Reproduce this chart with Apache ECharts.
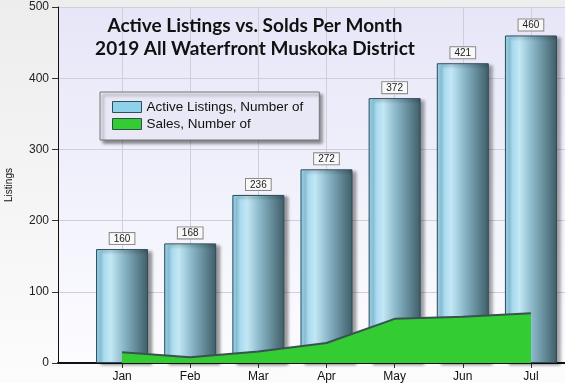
<!DOCTYPE html>
<html><head><meta charset="utf-8">
<script src="https://cdn.jsdelivr.net/npm/echarts@6/dist/echarts.min.js"></script>
<style>html,body{margin:0;padding:0;background:#fff}#c{width:565px;height:383px}</style>
</head><body><div id="c"></div>
<script>
const months = ['Jan','Feb','Mar','Apr','May','Jun','Jul'];
const activeListings = [160,168,236,272,372,421,460];
const sales = [15,8,16,28,62,65,70];
const yTicks = [0,100,200,300,400,500];
const titleLines = ['Active Listings vs. Solds Per Month','2019 All Waterfront Muskoka District'];

const chart = echarts.init(document.getElementById('c'), null, {renderer:'canvas'});
const idx = months.map((m,i)=>i);
chart.setOption({
  animation:false,
  backgroundColor:{type:'linear',x:0,y:0,x2:0,y2:1,colorStops:[{offset:0,color:'#ededed'},{offset:1,color:'#fcfcfc'}]},
  title:{
    text:titleLines.join('\n'),
    left:250, top:9, textAlign:'center',
    textStyle:{fontFamily:'Lato',fontWeight:'bold',fontSize:19,lineHeight:23,color:'#111'}
  },
  legend:{
    orient:'vertical', left:100, top:92,
    padding:[8,16,9,12],
    itemGap:3,
    itemWidth:29, itemHeight:11,
    backgroundColor:'#e8e8f6',
    borderColor:'#777', borderWidth:1,
    shadowBlur:3, shadowColor:'rgba(0,0,0,0.45)', shadowOffsetX:3, shadowOffsetY:3,
    textStyle:{fontFamily:'Liberation Sans',fontSize:13.5,color:'#111'},
    data:[
      {name:'Active Listings, Number of',icon:'rect',itemStyle:{color:'#8fd0ea',borderColor:'#2f4f5a',borderWidth:1}},
      {name:'Sales, Number of',icon:'rect',itemStyle:{color:'#33cc33',borderColor:'#2f4f4f',borderWidth:1}}
    ]
  },
  grid:{
    left:58, right:0, top:7, bottom:20, show:true, borderWidth:0, outerBoundsMode:'none',
    backgroundColor:{type:'linear',x:0,y:0,x2:0,y2:1,colorStops:[{offset:0,color:'#e6e6f8'},{offset:1,color:'#fcfcff'}]}
  },
  xAxis:{
    type:'value', min:-0.94, max:6.5,
    axisLine:{show:true,onZero:false,lineStyle:{color:'#111',width:2}},
    axisTick:{show:true,customValues:idx,length:5,lineStyle:{color:'#333'}},
    axisLabel:{customValues:idx,formatter:v=>months[Math.round(v)],fontFamily:'Liberation Sans',fontSize:12,color:'#111',margin:8},
    splitLine:{show:true,lineStyle:{color:'#cfcfd8',width:1}}
  },
  yAxis:{
    type:'value', min:0, max:500, interval:100,
    name:'Listings', nameLocation:'middle', nameGap:44, nameRotate:90,
    nameTextStyle:{fontFamily:'Liberation Sans',fontSize:10,color:'#111'},
    axisLine:{show:true,onZero:false,lineStyle:{color:'#111',width:1}},
    axisTick:{show:true,length:6,lineStyle:{color:'#333'}},
    axisLabel:{fontFamily:'Liberation Sans',fontSize:12,color:'#222',margin:9},
    splitLine:{show:true,lineStyle:{color:'#cfcfd8',width:1}}
  },
  series:[
    {
      name:'Active Listings, Number of', type:'bar', barWidth:52, z:2,
      data:activeListings.map((v,i)=>[i,v]),
      itemStyle:{
        color:{type:'linear',x:0,y:0,x2:1,y2:0,colorStops:[
          {offset:0,color:'#8ccde8'},{offset:0.28,color:'#c2e7f5'},{offset:0.55,color:'#86b3c4'},{offset:1,color:'#3f5d68'}]},
        borderColor:'#2e4b55', borderWidth:1,
        shadowBlur:3, shadowColor:'rgba(0,0,0,0.4)', shadowOffsetX:4, shadowOffsetY:2
      },
      label:{
        show:true, position:'top', distance:5,
        formatter:p=>p.value[1],
        fontFamily:'Liberation Sans', fontSize:10, color:'#222',
        backgroundColor:'#f8f8f8', borderColor:'#888', borderWidth:1, padding:[1,4,0,4]
      }
    },
    {
      name:'Sales, Number of', type:'line', z:3, symbol:'none',
      data:sales.map((v,i)=>[i,v]),
      lineStyle:{color:'#3a5252',width:2},
      areaStyle:{color:'#33cc33',opacity:1},
      itemStyle:{color:'#33cc33'}
    }
  ]
});
</script></body></html>
